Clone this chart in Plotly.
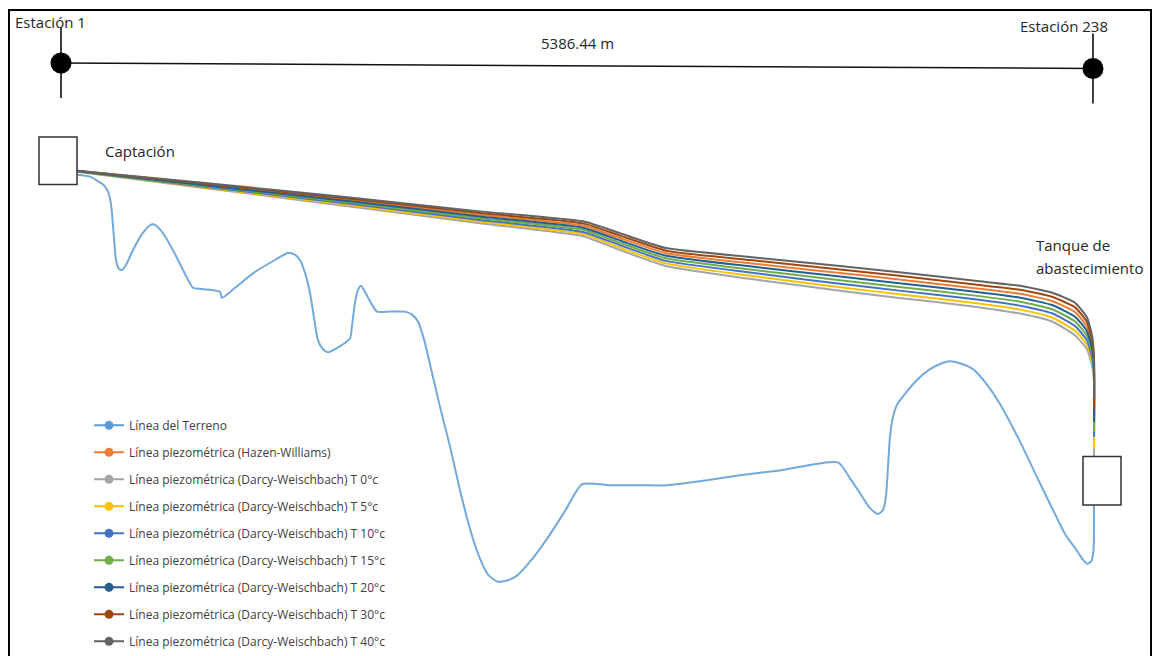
import plotly.graph_objects as go

# ---------------------------------------------------------------
# Perfil de la conducción: abscisa (m) y cota relativa (m)
# ---------------------------------------------------------------
terreno_x = [83.5, 151.4, 187.9, 219.2, 240.1, 255.8, 266.2, 276.6, 287.1, 302.7,
             318.4, 339.3, 375.8, 422.8, 464.5, 480.2, 501.1, 542.8, 595.0, 647.2,
             689.0, 725.5, 777.7, 829.9, 840.3, 908.2, 1012.6, 1117.0, 1184.8, 1216.1,
             1247.4, 1273.5, 1299.6, 1320.5, 1341.4, 1367.5, 1393.6, 1445.8, 1508.4, 1518.9,
             1534.5, 1550.2, 1565.8, 1591.9, 1623.3, 1649.3, 1717.2, 1795.5, 1832.0, 1863.3,
             1894.7, 1926.0, 1978.2, 2030.4, 2082.6, 2134.8, 2186.9, 2228.7, 2275.7, 2327.9,
             2380.1, 2447.9, 2536.7, 2630.6, 2719.3, 2865.5, 3022.1, 3163.0, 3335.2, 3543.0,
             3752.8, 4055.5, 4118.1, 4170.3, 4222.5, 4264.3, 4290.4, 4306.0, 4316.5, 4326.9,
             4342.6, 4363.5, 4405.2, 4467.9, 4535.7, 4598.3, 4640.1, 4692.3, 4760.1, 4822.8,
             4901.1, 5005.5, 5109.8, 5188.1, 5240.3, 5302.9, 5334.3, 5355.2, 5376.0, 5389.0,
             5391.7, 5391.7]
terreno_y = [480, 478, 474, 470, 465, 456, 441, 416, 394, 385,
             384, 389, 404, 420, 429, 430, 428, 418, 400, 380,
             366, 365, 364, 362, 356, 366, 382, 394, 401, 400,
             394, 381, 361, 336, 313, 304, 301, 306, 315, 328,
             351, 364, 368, 360, 349, 342, 342, 342, 339, 332,
             314, 289, 246, 206, 162, 123, 93, 77, 70, 71,
             76, 90, 113, 141, 168, 167, 167, 167, 171, 177,
             182, 190, 174, 159, 144, 138, 142, 156, 186, 216,
             236, 248, 259, 273, 284, 290, 292, 290, 284, 271,
             249, 211, 169, 138, 118, 101, 92, 88, 90, 101,
             121, 148]

# Líneas piezométricas (cota piezométrica en las mismas abscisas)
piezo_x = [83.5, 725.5, 1508.4, 2187.0, 2724.6, 2917.7, 3157.8, 3596.2, 4066.0,
           4363.5, 4770.6, 5005.5, 5172.5, 5292.6, 5355.2, 5381.3, 5391.7, 5391.7]

hazen_williams = [483.7, 470.6, 454.4, 439.6, 428.7, 416.1, 400.9, 390.7, 380.9,
                  374.6, 365.6, 360.0, 352.7, 341.6, 326.9, 309.4, 288.9, 214]
darcy_t0 = [483.0, 467.0, 448.0, 431.0, 418.0, 404.0, 388.0, 375.0, 363.0,
            356.0, 347.0, 340.0, 332.0, 318.0, 304.0, 288.0, 271.0, 196]
darcy_t5 = [483.1, 467.7, 449.3, 432.7, 420.1, 406.4, 390.6, 378.1, 366.6,
            359.7, 350.7, 344.0, 336.1, 322.7, 308.6, 292.3, 274.6, 204]
darcy_t10 = [483.3, 468.4, 450.6, 434.4, 422.3, 408.9, 393.1, 381.3, 370.1,
             363.4, 354.4, 348.0, 340.3, 327.4, 313.1, 296.6, 278.1, 216]
darcy_t15 = [483.4, 469.1, 451.9, 436.1, 424.4, 411.3, 395.7, 384.4, 373.7,
             367.1, 358.1, 352.0, 344.4, 332.1, 317.7, 300.9, 281.7, 221]
darcy_t20 = [483.6, 469.9, 453.1, 437.9, 426.6, 413.7, 398.3, 387.6, 377.3,
             370.9, 361.9, 356.0, 348.6, 336.9, 322.3, 305.1, 285.3, 231]
darcy_t30 = [483.9, 471.3, 455.7, 441.3, 430.9, 418.6, 403.4, 393.9, 384.4,
             378.3, 369.3, 364.0, 356.9, 346.3, 331.4, 313.7, 292.4, 244]
darcy_t40 = [484.0, 472.0, 457.0, 443.0, 433.0, 421.0, 406.0, 397.0, 388.0,
             382.0, 373.0, 368.0, 361.0, 351.0, 336.0, 318.0, 296.0, 256]

series_nombres = [
    "Línea del Terreno",
    "Línea piezométrica (Hazen-Williams)",
    "Línea piezométrica (Darcy-Weischbach) T 0°c",
    "Línea piezométrica (Darcy-Weischbach) T 5°c",
    "Línea piezométrica (Darcy-Weischbach) T 10°c",
    "Línea piezométrica (Darcy-Weischbach) T 15°c",
    "Línea piezométrica (Darcy-Weischbach) T 20°c",
    "Línea piezométrica (Darcy-Weischbach) T 30°c",
    "Línea piezométrica (Darcy-Weischbach) T 40°c",
]
series_colores = ["#5B9BD5", "#ED7D31", "#A5A5A5", "#FFC000", "#4472C4",
                  "#70AD47", "#255E91", "#9E480E", "#636363"]

# Estaciones extremas y longitud total
estaciones_x = [0.0, 5386.44]
estaciones_y = [592.5, 587.0]
estaciones_nombres = ["Estación 1", "Estación 238"]
longitud_total = 5386.44

# Estructuras (captación y tanque): [x0, x1, y0, y1]
captacion = [-114.8, 83.5, 470, 518]
tanque = [5334.3, 5532.6, 147, 196]

FONT = "Open Sans"
TXT = "#262626"

fig = go.Figure()

# Terreno
fig.add_trace(go.Scatter(
    x=terreno_x, y=terreno_y, mode="lines",
    line=dict(color=series_colores[0], width=2, shape="spline", smoothing=0.6),
    opacity=0.85, showlegend=False, hoverinfo="skip"))

# Líneas piezométricas
piezos = [hazen_williams, darcy_t0, darcy_t5, darcy_t10, darcy_t15,
          darcy_t20, darcy_t30, darcy_t40]
for nombre, color, ys in zip(series_nombres[1:], series_colores[1:], piezos):
    fig.add_trace(go.Scatter(
        x=piezo_x, y=ys, mode="lines",
        line=dict(color=color, width=2, shape="spline", smoothing=0.5),
        showlegend=False, hoverinfo="skip"))

# Entradas de leyenda
for i, (nombre, color) in enumerate(zip(series_nombres, series_colores)):
    fig.add_trace(go.Scatter(
        x=[None], y=[None], mode="lines+markers", name=nombre,
        legendgroup=f"g{i}",
        line=dict(color=color, width=2),
        marker=dict(color=color, size=9)))

# Cota de longitud entre estaciones
fig.add_trace(go.Scatter(
    x=estaciones_x, y=estaciones_y, mode="lines+markers",
    line=dict(color="#111111", width=1.5),
    marker=dict(color="#000000", size=21),
    showlegend=False, hoverinfo="skip"))
fig.add_trace(go.Scatter(
    x=estaciones_x, y=estaciones_y, mode="markers",
    marker=dict(symbol="line-ns", size=50, line=dict(color="#000000", width=1.5)),
    showlegend=False, hoverinfo="skip"))

# Estructuras
for x0, x1, y0, y1 in (captacion, tanque):
    fig.add_shape(type="rect", x0=x0, x1=x1, y0=y0, y1=y1,
                  line=dict(color="#333333", width=1.5), fillcolor="white",
                  layer="above")

# Marco
fig.add_shape(type="rect", xref="paper", yref="paper",
              x0=9 / 1155, x1=1151 / 1155, y0=-0.05, y1=1 - 10 / 656,
              line=dict(color="#000000", width=2), layer="above")

anot = dict(showarrow=False, font=dict(family=FONT, size=15, color=TXT))
fig.add_annotation(x=-250, y=634, text=estaciones_nombres[0], xanchor="left", **anot)
fig.add_annotation(x=5475.2, y=630, text=estaciones_nombres[1], xanchor="right", **anot)
fig.add_annotation(x=sum(estaciones_x) / 2, y=613, text=f"{longitud_total} m", **anot)
fig.add_annotation(x=219.2, y=504, text="Captación", xanchor="left", **anot)
fig.add_annotation(x=5078.5, y=409, text="Tanque de", xanchor="left", **anot)
fig.add_annotation(x=5078.5, y=386, text="abastecimiento", xanchor="left", **anot)

fig.update_layout(
    width=1155, height=656, autosize=False,
    margin=dict(l=0, r=0, t=0, b=0),
    paper_bgcolor="white", plot_bgcolor="white",
    xaxis=dict(range=[-318.4, 5710.1], visible=False, fixedrange=True),
    yaxis=dict(range=[0, 656], visible=False, fixedrange=True),
    legend=dict(x=89 / 1155, xanchor="left", y=1 - 414 / 656, yanchor="top",
                font=dict(family=FONT, size=12, color="#404040"),
                tracegroupgap=8, bgcolor="rgba(0,0,0,0)", borderwidth=0,
                traceorder="grouped"),
    showlegend=True,
)

fig.write_html("out.html")
